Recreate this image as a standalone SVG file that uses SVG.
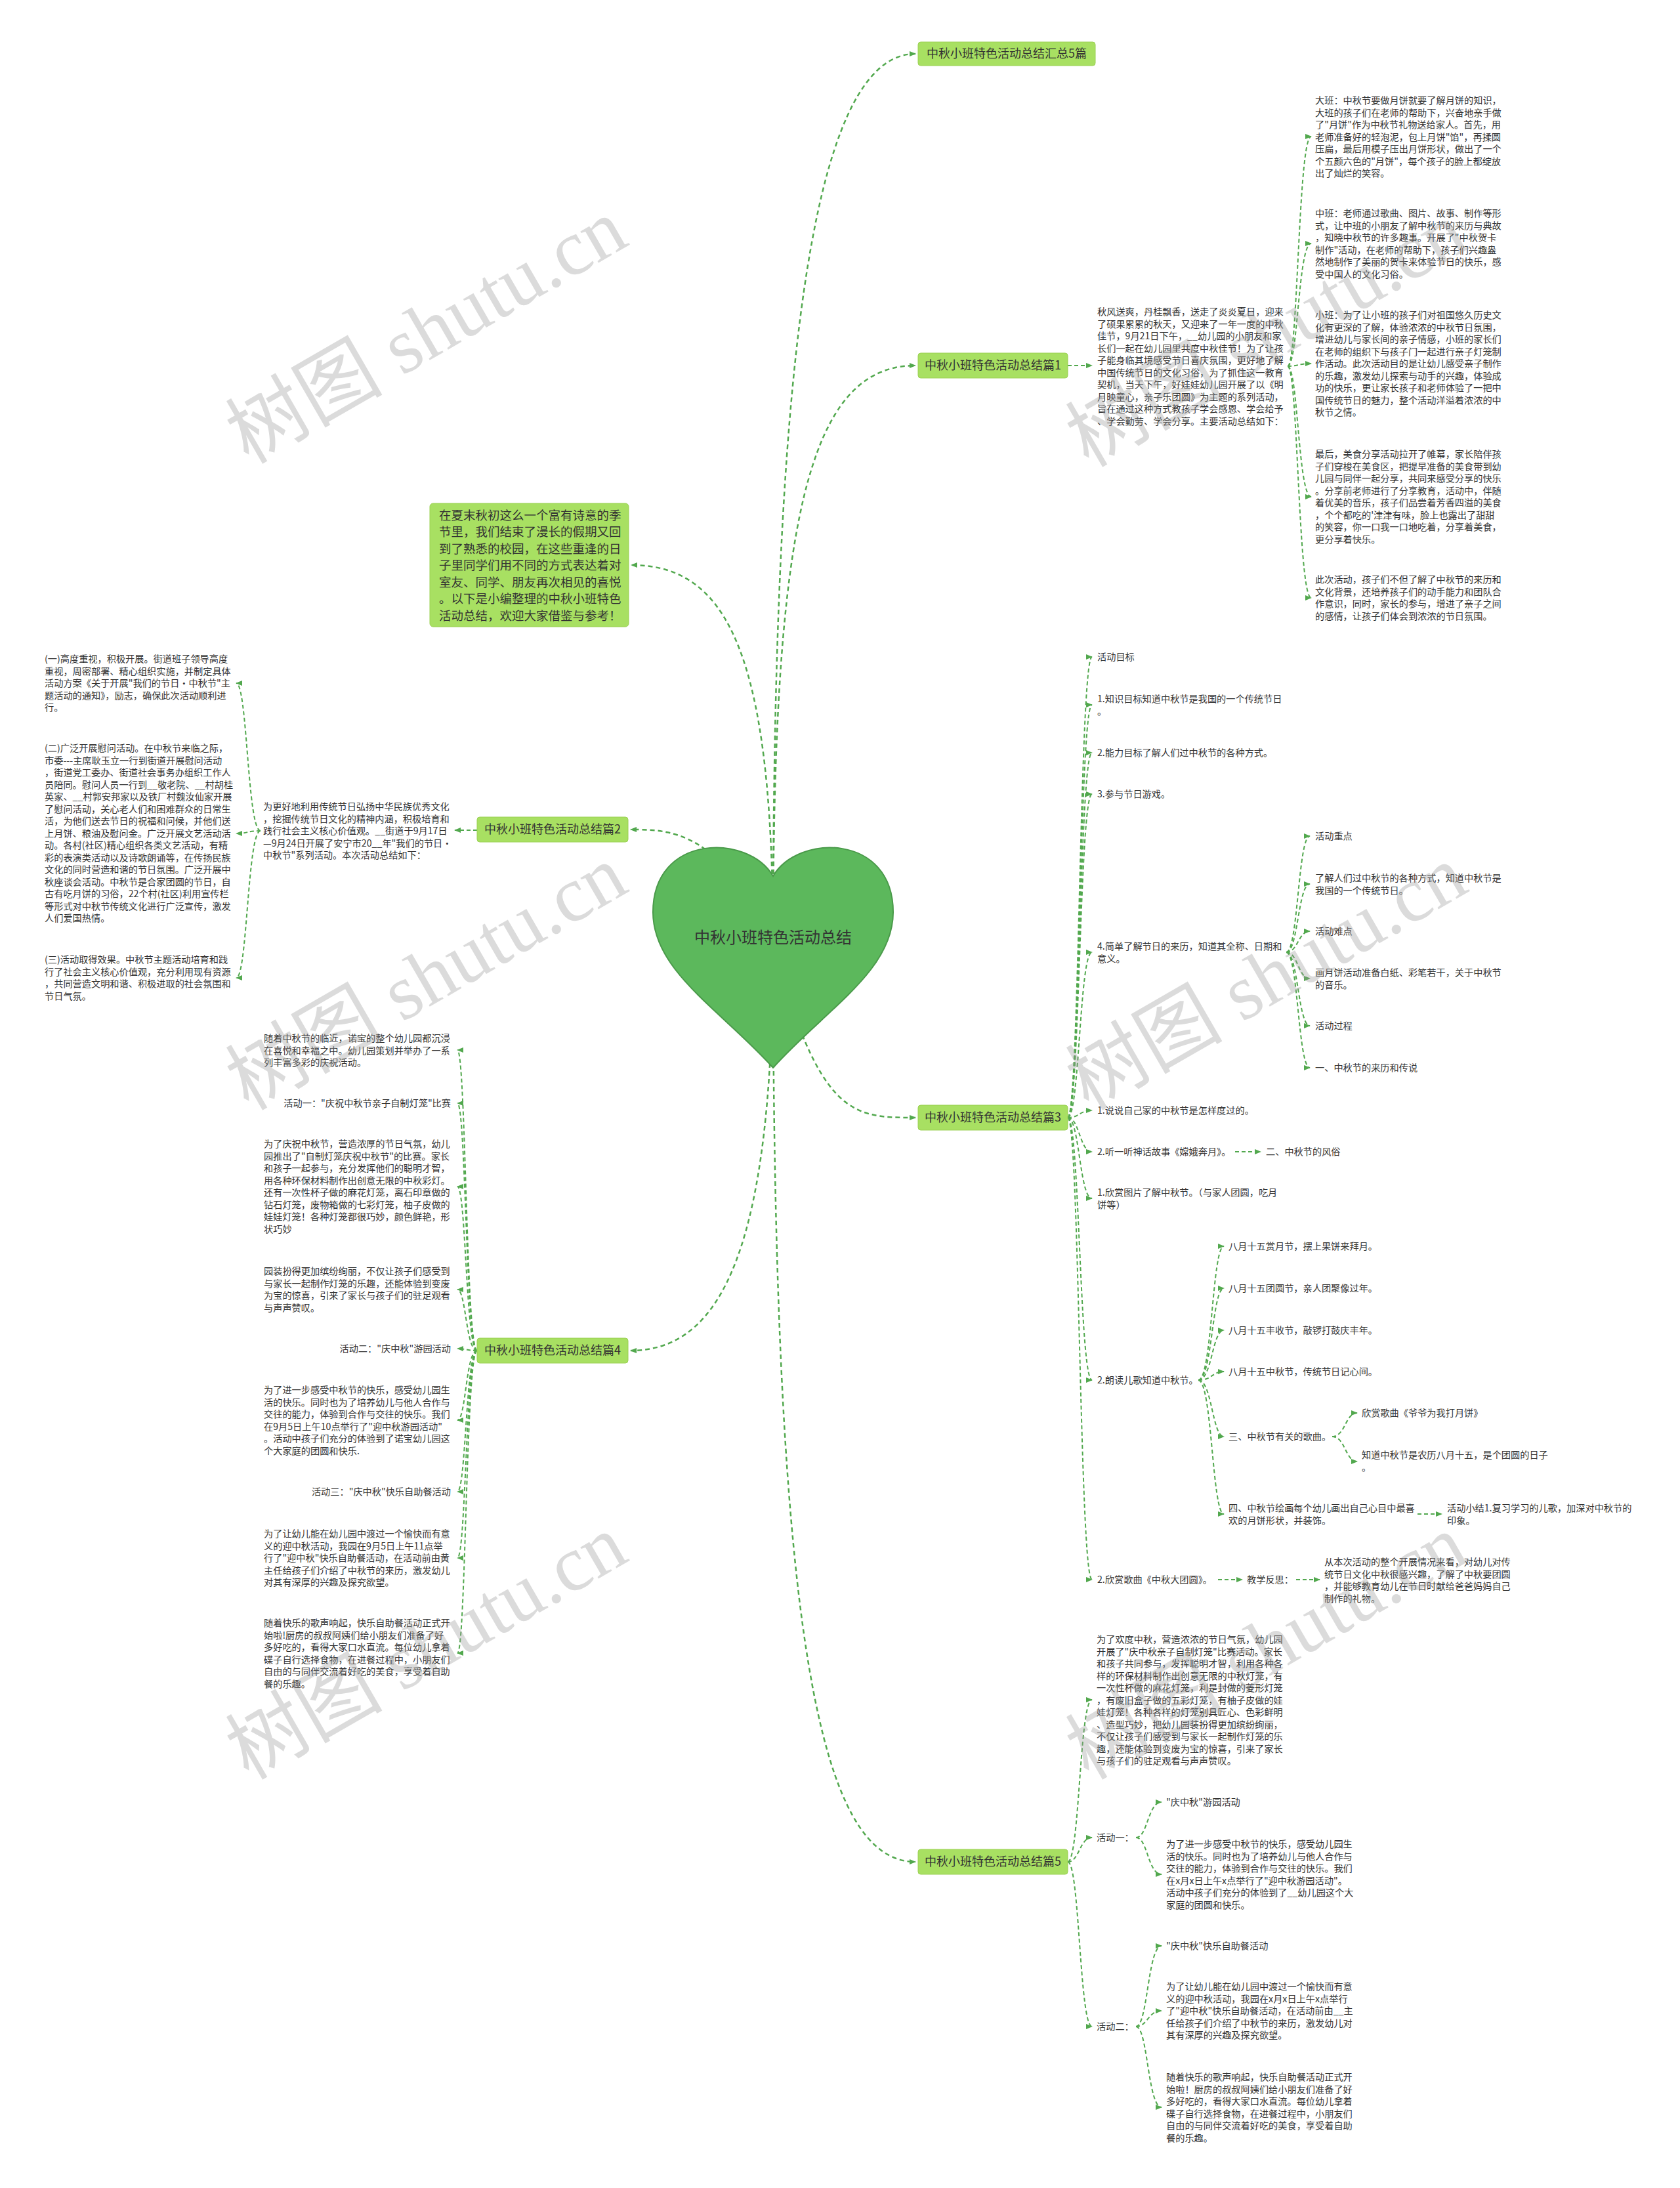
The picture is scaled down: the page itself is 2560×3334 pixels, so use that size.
<svg xmlns="http://www.w3.org/2000/svg" width="2560" height="3334" viewBox="0 0 2560 3334">
<defs>
<marker id="a" viewBox="0 0 10 10" refX="9" refY="5" markerWidth="10" markerHeight="10" markerUnits="userSpaceOnUse" orient="auto"><path d="M0,1 L10,5 L0,9 z" fill="#52a84e"/></marker>
<style>
.c{fill:none;stroke:#52a84e;stroke-width:2;stroke-dasharray:6 4;marker-end:url(#a)}
.cm{fill:none;stroke:#52a84e;stroke-width:2.5;stroke-dasharray:7 5;marker-end:url(#a)}
.t{font-family:"Noto Sans CJK SC","Noto Sans",sans-serif;font-size:14.2px;fill:#333}
.te{font-family:"Noto Sans CJK SC","Noto Sans",sans-serif;font-size:14.2px;fill:#333;text-anchor:end}
.bx{fill:#a8e062;stroke:#9ad052;stroke-width:1}
.bl{font-family:"Noto Sans CJK SC","Noto Sans",sans-serif;font-size:18px;fill:#333;text-anchor:middle}
.it{font-family:"Noto Sans CJK SC","Noto Sans",sans-serif;font-size:18.5px;fill:#333}
.wm{font-family:"Liberation Serif","Noto Sans CJK SC",serif;font-size:120px;fill:#999;opacity:0.35;text-anchor:middle}
</style>
</defs>
<rect width="2560" height="3334" fill="#fff"/>

<g id="connectors">
<path class="cm" d="M1178 1440C1178 600 1230 82 1395 82"/>
<path class="cm" d="M1178 1440C1178 800 1230 557 1395 557"/>
<path class="cm" d="M1178 1440C1178 1000 1110 861 962 861"/>
<path class="cm" d="M1178 1440C1100 1264 1020 1264 961 1264"/>
<path class="cm" d="M1178 1440C1250 1703 1300 1703 1395 1703"/>
<path class="cm" d="M1178 1440C1178 1900 1100 2058 961 2058"/>
<path class="cm" d="M1178 1440C1178 2500 1250 2837 1395 2837"/>

<path class="c" d="M1627 557L1664 557"/>
<path class="c" d="M1962 558C1978 558 1978 208 1998 208"/>
<path class="c" d="M1962 558C1978 558 1978 371 1998 371"/>
<path class="c" d="M1962 558C1978 558 1978 554 1998 554"/>
<path class="c" d="M1962 558C1978 558 1978 757 1998 757"/>
<path class="c" d="M1962 558C1978 558 1978 911 1998 911"/>

<path class="c" d="M727 1265L693 1265"/>
<path class="c" d="M397 1266C377 1266 377 1041 360 1041"/>
<path class="c" d="M397 1266C377 1266 377 1270 360 1270"/>
<path class="c" d="M397 1266C377 1266 377 1490 360 1490"/>

<path class="c" d="M727 2058C710 2058 710 1600 697 1600"/>
<path class="c" d="M727 2058C710 2058 710 1681 697 1681"/>
<path class="c" d="M727 2058C710 2058 710 1808 697 1808"/>
<path class="c" d="M727 2058C710 2058 710 1965 697 1965"/>
<path class="c" d="M727 2058C710 2058 710 2055 697 2055"/>
<path class="c" d="M727 2058C710 2058 710 2164 697 2164"/>
<path class="c" d="M727 2058C710 2058 710 2273 697 2273"/>
<path class="c" d="M727 2058C710 2058 710 2374 697 2374"/>
<path class="c" d="M727 2058C710 2058 710 2519 697 2519"/>

<path class="c" d="M1627 1703C1645 1703 1645 1001 1664 1001"/>
<path class="c" d="M1627 1703C1645 1703 1645 1074 1664 1074"/>
<path class="c" d="M1627 1703C1645 1703 1645 1147 1664 1147"/>
<path class="c" d="M1627 1703C1645 1703 1645 1210 1664 1210"/>
<path class="c" d="M1627 1703C1645 1703 1645 1451 1664 1451"/>
<path class="c" d="M1627 1703C1645 1703 1645 1692 1664 1692"/>
<path class="c" d="M1627 1703C1645 1703 1645 1755 1664 1755"/>
<path class="c" d="M1627 1703C1645 1703 1645 1826 1664 1826"/>
<path class="c" d="M1627 1703C1645 1703 1645 2103 1664 2103"/>
<path class="c" d="M1627 1703C1645 1703 1645 2407 1664 2407"/>

<path class="c" d="M1960 1451C1978 1451 1978 1274 1996 1274"/>
<path class="c" d="M1960 1451C1978 1451 1978 1347 1996 1347"/>
<path class="c" d="M1960 1451C1978 1451 1978 1419 1996 1419"/>
<path class="c" d="M1960 1451C1978 1451 1978 1491 1996 1491"/>
<path class="c" d="M1960 1451C1978 1451 1978 1563 1996 1563"/>
<path class="c" d="M1960 1451C1978 1451 1978 1627 1996 1627"/>

<path class="c" d="M1882 1755L1921 1755"/>

<path class="c" d="M1826 2103C1847 2103 1847 1899 1865 1899"/>
<path class="c" d="M1826 2103C1847 2103 1847 1963 1865 1963"/>
<path class="c" d="M1826 2103C1847 2103 1847 2027 1865 2027"/>
<path class="c" d="M1826 2103C1847 2103 1847 2090 1865 2090"/>
<path class="c" d="M1826 2103C1847 2103 1847 2189 1865 2189"/>
<path class="c" d="M1826 2103C1847 2103 1847 2307 1865 2307"/>

<path class="c" d="M2030 2189C2050 2189 2050 2153 2068 2153"/>
<path class="c" d="M2030 2189C2050 2189 2050 2227 2068 2227"/>
<path class="c" d="M2160 2307L2197 2307"/>
<path class="c" d="M1856 2407L1893 2407"/>
<path class="c" d="M1975 2407L2011 2407"/>

<path class="c" d="M1627 2837C1645 2837 1645 2590 1664 2590"/>
<path class="c" d="M1627 2837C1645 2837 1645 2800 1664 2800"/>
<path class="c" d="M1627 2837C1645 2837 1645 3088 1664 3088"/>
<path class="c" d="M1731 2800C1749 2800 1749 2746 1770 2746"/>
<path class="c" d="M1731 2800C1749 2800 1749 2856 1770 2856"/>
<path class="c" d="M1731 3088C1749 3088 1749 2965 1770 2965"/>
<path class="c" d="M1731 3088C1749 3088 1749 3064 1770 3064"/>
<path class="c" d="M1731 3088C1749 3088 1749 3211 1770 3211"/>
</g>

<g id="center">
<path d="M1178 1335C1140 1270 995 1270 995 1390C995 1480 1100 1540 1178 1627C1256 1540 1361 1480 1361 1390C1361 1270 1216 1270 1178 1335Z" fill="#5cb85c" stroke="#4a9a4a" stroke-width="2"/>
<text x="1178" y="1437" font-family="Noto Sans CJK SC, sans-serif" font-size="24" fill="#333" text-anchor="middle">中秋小班特色活动总结</text>
</g>

<g id="b0">
<rect class="bx" x="1399" y="64" width="270" height="36" rx="4"/>
<text class="bl" x="1534" y="88">中秋小班特色活动总结汇总5篇</text>
</g>

<g id="intro">
<rect class="bx" x="655" y="767" width="303" height="188" rx="5"/>
<text class="it" x="669" y="791.5"><tspan x="669">在夏末秋初这么一个富有诗意的季</tspan><tspan x="669" dy="25.5">节里，我们结束了漫长的假期又回</tspan><tspan x="669" dy="25.5">到了熟悉的校园，在这些重逢的日</tspan><tspan x="669" dy="25.5">子里同学们用不同的方式表达着对</tspan><tspan x="669" dy="25.5">室友、同学、朋友再次相见的喜悦</tspan><tspan x="669" dy="25.5">。以下是小编整理的中秋小班特色</tspan><tspan x="669" dy="25.5">活动总结，欢迎大家借鉴与参考！</tspan></text>
</g>

<g id="b1">
<rect class="bx" x="1399" y="538" width="228" height="38" rx="4"/>
<text class="bl" x="1513" y="563">中秋小班特色活动总结篇1</text>
</g>
<g id="b1-intro">
<text class="t" x="1672" y="480"><tspan x="1672">秋风送爽，丹桂飘香，送走了炎炎夏日，迎来</tspan><tspan x="1672" dy="18.5">了硕果累累的秋天，又迎来了一年一度的中秋</tspan><tspan x="1672" dy="18.5">佳节，9月21日下午，__幼儿园的小朋友和家</tspan><tspan x="1672" dy="18.5">长们一起在幼儿园里共度中秋佳节！为了让孩</tspan><tspan x="1672" dy="18.5">子能身临其境感受节日喜庆氛围，更好地了解</tspan><tspan x="1672" dy="18.5">中国传统节日的文化习俗，为了抓住这一教育</tspan><tspan x="1672" dy="18.5">契机，当天下午，好娃娃幼儿园开展了以《明</tspan><tspan x="1672" dy="18.5">月映童心，亲子乐团圆》为主题的系列活动，</tspan><tspan x="1672" dy="18.5">旨在通过这种方式教孩子学会感恩、学会给予</tspan><tspan x="1672" dy="18.5">、学会勤劳、学会分享。主要活动总结如下：</tspan></text>
</g>
<g id="b1-1">
<text class="t" x="2004" y="158"><tspan x="2004">大班：中秋节要做月饼就要了解月饼的知识，</tspan><tspan x="2004" dy="18.5">大班的孩子们在老师的帮助下，兴奋地亲手做</tspan><tspan x="2004" dy="18.5">了"月饼"作为中秋节礼物送给家人。首先，用</tspan><tspan x="2004" dy="18.5">老师准备好的轻泡泥，包上月饼"馅"，再揉圆</tspan><tspan x="2004" dy="18.5">压扁，最后用模子压出月饼形状，做出了一个</tspan><tspan x="2004" dy="18.5">个五颜六色的"月饼"，每个孩子的脸上都绽放</tspan><tspan x="2004" dy="18.5">出了灿烂的笑容。</tspan></text>
</g>
<g id="b1-2">
<text class="t" x="2004" y="330"><tspan x="2004">中班：老师通过歌曲、图片、故事、制作等形</tspan><tspan x="2004" dy="18.5">式，让中班的小朋友了解中秋节的来历与典故</tspan><tspan x="2004" dy="18.5">，知晓中秋节的许多趣事。开展了"中秋贺卡</tspan><tspan x="2004" dy="18.5">制作"活动，在老师的帮助下，孩子们兴趣盎</tspan><tspan x="2004" dy="18.5">然地制作了美丽的贺卡来体验节日的快乐，感</tspan><tspan x="2004" dy="18.5">受中国人的文化习俗。</tspan></text>
</g>
<g id="b1-3">
<text class="t" x="2004" y="485"><tspan x="2004">小班：为了让小班的孩子们对祖国悠久历史文</tspan><tspan x="2004" dy="18.5">化有更深的了解，体验浓浓的中秋节日氛围，</tspan><tspan x="2004" dy="18.5">增进幼儿与家长间的亲子情感，小班的家长们</tspan><tspan x="2004" dy="18.5">在老师的组织下与孩子门一起进行亲子灯笼制</tspan><tspan x="2004" dy="18.5">作活动。此次活动目的是让幼儿感受亲子制作</tspan><tspan x="2004" dy="18.5">的乐趣，激发幼儿探索与动手的兴趣，体验成</tspan><tspan x="2004" dy="18.5">功的快乐，更让家长孩子和老师体验了一把中</tspan><tspan x="2004" dy="18.5">国传统节日的魅力，整个活动洋溢着浓浓的中</tspan><tspan x="2004" dy="18.5">秋节之情。</tspan></text>
</g>
<g id="b1-4">
<text class="t" x="2004" y="697"><tspan x="2004">最后，美食分享活动拉开了帷幕，家长陪伴孩</tspan><tspan x="2004" dy="18.5">子们穿梭在美食区，把提早准备的美食带到幼</tspan><tspan x="2004" dy="18.5">儿园与同伴一起分享，共同来感受分享的快乐</tspan><tspan x="2004" dy="18.5">。分享前老师进行了分享教育，活动中，伴随</tspan><tspan x="2004" dy="18.5">着优美的音乐，孩子们品尝着芳香四溢的美食</tspan><tspan x="2004" dy="18.5">，个个都吃的'津津有味，脸上也露出了甜甜</tspan><tspan x="2004" dy="18.5">的笑容，你一口我一口地吃着，分享着美食，</tspan><tspan x="2004" dy="18.5">更分享着快乐。</tspan></text>
</g>
<g id="b1-5">
<text class="t" x="2004" y="888"><tspan x="2004">此次活动，孩子们不但了解了中秋节的来历和</tspan><tspan x="2004" dy="18.5">文化背景，还培养孩子们的动手能力和团队合</tspan><tspan x="2004" dy="18.5">作意识，同时，家长的参与，增进了亲子之间</tspan><tspan x="2004" dy="18.5">的感情，让孩子们体会到浓浓的节日氛围。</tspan></text>
</g>

<g id="b2">
<rect class="bx" x="727" y="1245" width="230" height="38" rx="4"/>
<text class="bl" x="842" y="1270">中秋小班特色活动总结篇2</text>
</g>
<g id="b2-intro">
<text class="t" x="401" y="1234"><tspan x="401">为更好地利用传统节日弘扬中华民族优秀文化</tspan><tspan x="401" dy="18.5">，挖掘传统节日文化的精神内涵，积极培育和</tspan><tspan x="401" dy="18.5">践行社会主义核心价值观。__街道于9月17日</tspan><tspan x="401" dy="18.5">—9月24日开展了安宁市20__年"我们的节日·</tspan><tspan x="401" dy="18.5">中秋节"系列活动。本次活动总结如下：</tspan></text>
</g>
<g id="b2-1">
<text class="t" x="68" y="1009"><tspan x="68">(一)高度重视，积极开展。街道班子领导高度</tspan><tspan x="68" dy="18.5">重视，周密部署、精心组织实施，并制定具体</tspan><tspan x="68" dy="18.5">活动方案《关于开展"我们的节日·中秋节"主</tspan><tspan x="68" dy="18.5">题活动的通知》，励志，确保此次活动顺利进</tspan><tspan x="68" dy="18.5">行。</tspan></text>
</g>
<g id="b2-2">
<text class="t" x="68" y="1145"><tspan x="68">(二)广泛开展慰问活动。在中秋节来临之际，</tspan><tspan x="68" dy="18.5">市委---主席耿玉立一行到街道开展慰问活动</tspan><tspan x="68" dy="18.5">，街道党工委办、街道社会事务办组织工作人</tspan><tspan x="68" dy="18.5">员陪同。慰问人员一行到__敬老院、__村胡桂</tspan><tspan x="68" dy="18.5">英家、__村郭安邦家以及铁厂村魏汝仙家开展</tspan><tspan x="68" dy="18.5">了慰问活动，关心老人们和困难群众的日常生</tspan><tspan x="68" dy="18.5">活，为他们送去节日的祝福和问候，并他们送</tspan><tspan x="68" dy="18.5">上月饼、粮油及慰问金。广泛开展文艺活动活</tspan><tspan x="68" dy="18.5">动。各村(社区)精心组织各类文艺活动，有精</tspan><tspan x="68" dy="18.5">彩的表演类活动以及诗歌朗诵等，在传扬民族</tspan><tspan x="68" dy="18.5">文化的同时营造和谐的节日氛围。广泛开展中</tspan><tspan x="68" dy="18.5">秋座谈会活动。中秋节是合家团圆的节日，自</tspan><tspan x="68" dy="18.5">古有吃月饼的习俗，22个村(社区)利用宣传栏</tspan><tspan x="68" dy="18.5">等形式对中秋节传统文化进行广泛宣传，激发</tspan><tspan x="68" dy="18.5">人们爱国热情。</tspan></text>
</g>
<g id="b2-3">
<text class="t" x="68" y="1467"><tspan x="68">(三)活动取得效果。中秋节主题活动培育和践</tspan><tspan x="68" dy="18.5">行了社会主义核心价值观，充分利用现有资源</tspan><tspan x="68" dy="18.5">，共同营造文明和谐、积极进取的社会氛围和</tspan><tspan x="68" dy="18.5">节日气氛。</tspan></text>
</g>

<g id="b3">
<rect class="bx" x="1399" y="1684" width="228" height="38" rx="4"/>
<text class="bl" x="1513" y="1709">中秋小班特色活动总结篇3</text>
</g>
<g id="b3-1"><text class="t" x="1672" y="1006">活动目标</text></g>
<g id="b3-2"><text class="t" x="1672" y="1070"><tspan x="1672">1.知识目标知道中秋节是我国的一个传统节日</tspan><tspan x="1672" dy="18.5">。</tspan></text></g>
<g id="b3-3"><text class="t" x="1672" y="1152">2.能力目标了解人们过中秋节的各种方式。</text></g>
<g id="b3-4"><text class="t" x="1672" y="1215">3.参与节日游戏。</text></g>
<g id="b3-5"><text class="t" x="1672" y="1447"><tspan x="1672">4.简单了解节日的来历，知道其全称、日期和</tspan><tspan x="1672" dy="18.5">意义。</tspan></text></g>
<g id="b3-5-1"><text class="t" x="2004" y="1279">活动重点</text></g>
<g id="b3-5-2"><text class="t" x="2004" y="1343"><tspan x="2004">了解人们过中秋节的各种方式，知道中秋节是</tspan><tspan x="2004" dy="18.5">我国的一个传统节日。</tspan></text></g>
<g id="b3-5-3"><text class="t" x="2004" y="1424">活动难点</text></g>
<g id="b3-5-4"><text class="t" x="2004" y="1487"><tspan x="2004">画月饼活动准备白纸、彩笔若干，关于中秋节</tspan><tspan x="2004" dy="18.5">的音乐。</tspan></text></g>
<g id="b3-5-5"><text class="t" x="2004" y="1568">活动过程</text></g>
<g id="b3-5-6"><text class="t" x="2004" y="1632">一、中秋节的来历和传说</text></g>
<g id="b3-6"><text class="t" x="1672" y="1697">1.说说自己家的中秋节是怎样度过的。</text></g>
<g id="b3-7"><text class="t" x="1672" y="1760">2.听一听神话故事《嫦娥奔月》。</text></g>
<g id="b3-7-1"><text class="t" x="1929" y="1760">二、中秋节的风俗</text></g>
<g id="b3-8"><text class="t" x="1672" y="1822"><tspan x="1672">1.欣赏图片了解中秋节。（与家人团圆，吃月</tspan><tspan x="1672" dy="18.5">饼等）</tspan></text></g>
<g id="b3-9"><text class="t" x="1672" y="2108">2.朗读儿歌知道中秋节。</text></g>
<g id="b3-9-1"><text class="t" x="1872" y="1904">八月十五赏月节，摆上果饼来拜月。</text></g>
<g id="b3-9-2"><text class="t" x="1872" y="1968">八月十五团圆节，亲人团聚像过年。</text></g>
<g id="b3-9-3"><text class="t" x="1872" y="2032">八月十五丰收节，敲锣打鼓庆丰年。</text></g>
<g id="b3-9-4"><text class="t" x="1872" y="2095">八月十五中秋节，传统节日记心间。</text></g>
<g id="b3-9-5"><text class="t" x="1872" y="2194">三、中秋节有关的歌曲。</text></g>
<g id="b3-9-5-1"><text class="t" x="2075" y="2158">欣赏歌曲《爷爷为我打月饼》</text></g>
<g id="b3-9-5-2"><text class="t" x="2075" y="2222"><tspan x="2075">知道中秋节是农历八月十五，是个团圆的日子</tspan><tspan x="2075" dy="18.5">。</tspan></text></g>
<g id="b3-9-6"><text class="t" x="1872" y="2303"><tspan x="1872">四、中秋节绘画每个幼儿画出自己心目中最喜</tspan><tspan x="1872" dy="18.5">欢的月饼形状，并装饰。</tspan></text></g>
<g id="b3-9-6-1"><text class="t" x="2205" y="2303"><tspan x="2205">活动小结1.复习学习的儿歌，加深对中秋节的</tspan><tspan x="2205" dy="18.5">印象。</tspan></text></g>
<g id="b3-10"><text class="t" x="1672" y="2412">2.欣赏歌曲《中秋大团圆》。</text></g>
<g id="b3-10-1"><text class="t" x="1900" y="2412">教学反思：</text></g>
<g id="b3-10-1-1"><text class="t" x="2018" y="2385"><tspan x="2018">从本次活动的整个开展情况来看，对幼儿对传</tspan><tspan x="2018" dy="18.5">统节日文化中秋很感兴趣，了解了中秋要团圆</tspan><tspan x="2018" dy="18.5">，并能够教育幼儿在节日时献给爸爸妈妈自己</tspan><tspan x="2018" dy="18.5">制作的礼物。</tspan></text></g>

<g id="b4">
<rect class="bx" x="727" y="2039" width="230" height="38" rx="4"/>
<text class="bl" x="842" y="2064">中秋小班特色活动总结篇4</text>
</g>
<g id="b4-1"><text class="t" x="402" y="1587"><tspan x="402">随着中秋节的临近，诺宝的整个幼儿园都沉浸</tspan><tspan x="402" dy="18.5">在喜悦和幸福之中。幼儿园策划并举办了一系</tspan><tspan x="402" dy="18.5">列丰富多彩的庆祝活动。</tspan></text></g>
<g id="b4-2"><text class="te" x="687" y="1686">活动一："庆祝中秋节亲子自制灯笼"比赛</text></g>
<g id="b4-3"><text class="t" x="402" y="1748"><tspan x="402">为了庆祝中秋节，营造浓厚的节日气氛，幼儿</tspan><tspan x="402" dy="18.5">园推出了"自制灯笼庆祝中秋节"的比赛。家长</tspan><tspan x="402" dy="18.5">和孩子一起参与，充分发挥他们的聪明才智，</tspan><tspan x="402" dy="18.5">用各种环保材料制作出创意无限的中秋彩灯。</tspan><tspan x="402" dy="18.5">还有一次性杯子做的麻花灯笼，离石印章做的</tspan><tspan x="402" dy="18.5">钻石灯笼，废物箱做的七彩灯笼，柚子皮做的</tspan><tspan x="402" dy="18.5">娃娃灯笼！各种灯笼都很巧妙，颜色鲜艳，形</tspan><tspan x="402" dy="18.5">状巧妙</tspan></text></g>
<g id="b4-4"><text class="t" x="402" y="1942"><tspan x="402">园装扮得更加缤纷绚丽，不仅让孩子们感受到</tspan><tspan x="402" dy="18.5">与家长一起制作灯笼的乐趣，还能体验到变废</tspan><tspan x="402" dy="18.5">为宝的惊喜，引来了家长与孩子们的驻足观看</tspan><tspan x="402" dy="18.5">与声声赞叹。</tspan></text></g>
<g id="b4-5"><text class="te" x="687" y="2060">活动二："庆中秋"游园活动</text></g>
<g id="b4-6"><text class="t" x="402" y="2123"><tspan x="402">为了进一步感受中秋节的快乐，感受幼儿园生</tspan><tspan x="402" dy="18.5">活的快乐。同时也为了培养幼儿与他人合作与</tspan><tspan x="402" dy="18.5">交往的能力，体验到合作与交往的快乐。我们</tspan><tspan x="402" dy="18.5">在9月5日上午10点举行了"迎中秋游园活动"</tspan><tspan x="402" dy="18.5">。活动中孩子们充分的体验到了诺宝幼儿园这</tspan><tspan x="402" dy="18.5">个大家庭的团圆和快乐.</tspan></text></g>
<g id="b4-7"><text class="te" x="687" y="2278">活动三："庆中秋"快乐自助餐活动</text></g>
<g id="b4-8"><text class="t" x="402" y="2342"><tspan x="402">为了让幼儿能在幼儿园中渡过一个愉快而有意</tspan><tspan x="402" dy="18.5">义的迎中秋活动，我园在9月5日上午11点举</tspan><tspan x="402" dy="18.5">行了"迎中秋"快乐自助餐活动，在活动前由黄</tspan><tspan x="402" dy="18.5">主任给孩子们介绍了中秋节的来历，激发幼儿</tspan><tspan x="402" dy="18.5">对其有深厚的兴趣及探究欲望。</tspan></text></g>
<g id="b4-9"><text class="t" x="402" y="2478"><tspan x="402">随着快乐的歌声响起，快乐自助餐活动正式开</tspan><tspan x="402" dy="18.5">始啦!厨房的叔叔阿姨们给小朋友们准备了好</tspan><tspan x="402" dy="18.5">多好吃的，看得大家口水直流。每位幼儿拿着</tspan><tspan x="402" dy="18.5">碟子自行选择食物，在进餐过程中，小朋友们</tspan><tspan x="402" dy="18.5">自由的与同伴交流着好吃的美食，享受着自助</tspan><tspan x="402" dy="18.5">餐的乐趣。</tspan></text></g>

<g id="b5">
<rect class="bx" x="1399" y="2818" width="228" height="38" rx="4"/>
<text class="bl" x="1513" y="2843">中秋小班特色活动总结篇5</text>
</g>
<g id="b5-1"><text class="t" x="1671" y="2503"><tspan x="1671">为了欢度中秋，营造浓浓的节日气氛，幼儿园</tspan><tspan x="1671" dy="18.5">开展了"庆中秋亲子自制灯笼"比赛活动。家长</tspan><tspan x="1671" dy="18.5">和孩子共同参与，发挥聪明才智，利用各种各</tspan><tspan x="1671" dy="18.5">样的环保材料制作出创意无限的中秋灯笼，有</tspan><tspan x="1671" dy="18.5">一次性杯做的麻花灯笼，利是封做的菱形灯笼</tspan><tspan x="1671" dy="18.5">，有废旧盒子做的五彩灯笼，有柚子皮做的娃</tspan><tspan x="1671" dy="18.5">娃灯笼！各种各样的灯笼别具匠心、色彩鲜明</tspan><tspan x="1671" dy="18.5">、造型巧妙，把幼儿园装扮得更加缤纷绚丽，</tspan><tspan x="1671" dy="18.5">不仅让孩子们感受到与家长一起制作灯笼的乐</tspan><tspan x="1671" dy="18.5">趣，还能体验到变废为宝的惊喜，引来了家长</tspan><tspan x="1671" dy="18.5">与孩子们的驻足观看与声声赞叹。</tspan></text></g>
<g id="b5-2"><text class="t" x="1671" y="2805">活动一：</text></g>
<g id="b5-2-1"><text class="t" x="1777" y="2751">"庆中秋"游园活动</text></g>
<g id="b5-2-2"><text class="t" x="1777" y="2815"><tspan x="1777">为了进一步感受中秋节的快乐，感受幼儿园生</tspan><tspan x="1777" dy="18.5">活的快乐。同时也为了培养幼儿与他人合作与</tspan><tspan x="1777" dy="18.5">交往的能力，体验到合作与交往的快乐。我们</tspan><tspan x="1777" dy="18.5">在x月x日上午x点举行了"迎中秋游园活动"。</tspan><tspan x="1777" dy="18.5">活动中孩子们充分的体验到了__幼儿园这个大</tspan><tspan x="1777" dy="18.5">家庭的团圆和快乐。</tspan></text></g>
<g id="b5-3"><text class="t" x="1671" y="3093">活动二：</text></g>
<g id="b5-3-1"><text class="t" x="1777" y="2970">"庆中秋"快乐自助餐活动</text></g>
<g id="b5-3-2"><text class="t" x="1777" y="3032"><tspan x="1777">为了让幼儿能在幼儿园中渡过一个愉快而有意</tspan><tspan x="1777" dy="18.5">义的迎中秋活动，我园在x月x日上午x点举行</tspan><tspan x="1777" dy="18.5">了"迎中秋"快乐自助餐活动，在活动前由__主</tspan><tspan x="1777" dy="18.5">任给孩子们介绍了中秋节的来历，激发幼儿对</tspan><tspan x="1777" dy="18.5">其有深厚的兴趣及探究欲望。</tspan></text></g>
<g id="b5-3-3"><text class="t" x="1777" y="3170"><tspan x="1777">随着快乐的歌声响起，快乐自助餐活动正式开</tspan><tspan x="1777" dy="18.5">始啦！厨房的叔叔阿姨们给小朋友们准备了好</tspan><tspan x="1777" dy="18.5">多好吃的，看得大家口水直流。每位幼儿拿着</tspan><tspan x="1777" dy="18.5">碟子自行选择食物，在进餐过程中，小朋友们</tspan><tspan x="1777" dy="18.5">自由的与同伴交流着好吃的美食，享受着自助</tspan><tspan x="1777" dy="18.5">餐的乐趣。</tspan></text></g>

<g id="watermarks">
<text class="wm" transform="translate(670,540) rotate(-30)">树图 shutu.cn</text>
<text class="wm" transform="translate(670,1525) rotate(-30)">树图 shutu.cn</text>
<text class="wm" transform="translate(670,2545) rotate(-30)">树图 shutu.cn</text>
<text class="wm" transform="translate(1950,545) rotate(-30)">树图 shutu.cn</text>
<text class="wm" transform="translate(1950,1525) rotate(-30)">树图 shutu.cn</text>
<text class="wm" transform="translate(1950,2545) rotate(-30)">树图 shutu.cn</text>
</g>
</svg>
